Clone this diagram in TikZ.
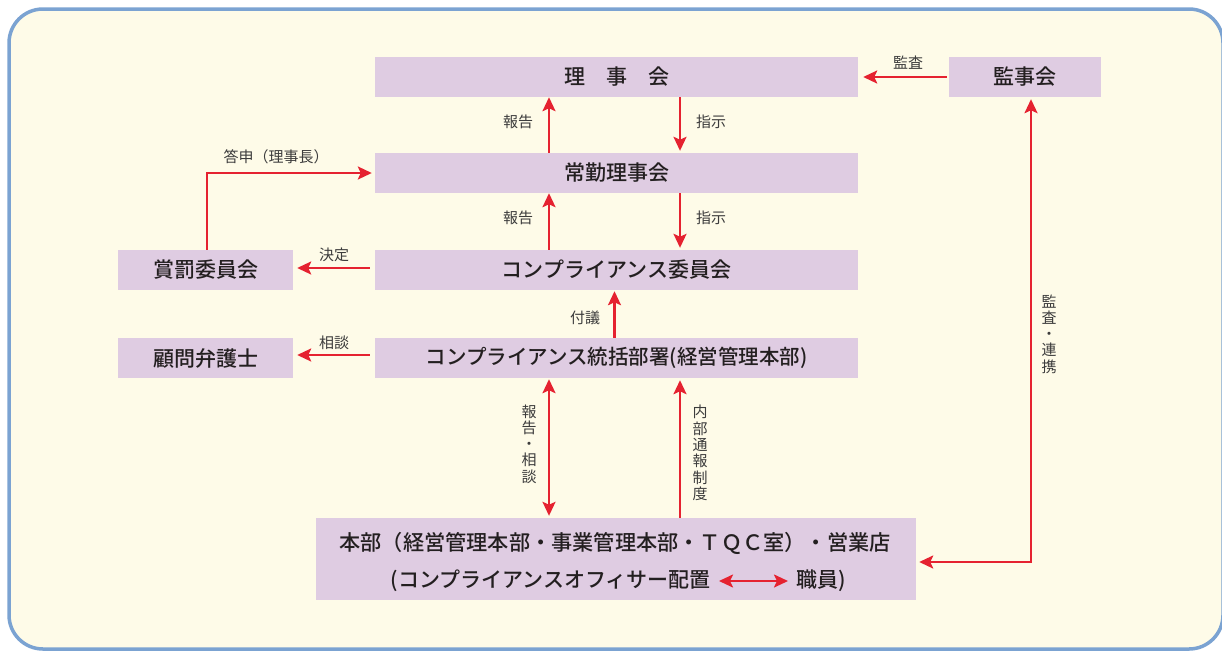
\documentclass[tikz,border=0pt]{standalone}
\usepackage{fontspec}
\newfontfamily\cjk{Noto Sans CJK JP}
\newfontfamily\cjkm{Noto Sans CJK JP Medium}
\usetikzlibrary{arrows.meta}
\definecolor{boxfill}{HTML}{DFCCE2}
\definecolor{arrred}{HTML}{E52230}
\definecolor{bgcream}{HTML}{FEFBE8}
\definecolor{framebl}{HTML}{7BA3D2}
\definecolor{txtc}{HTML}{231F20}
\definecolor{lblc}{HTML}{3C3C3C}
\tikzset{
  box/.style={fill=boxfill, draw=none, minimum height=40pt, inner sep=0pt, text=txtc,
    font=\cjkm\fontsize{21}{26}\selectfont},
  lbl/.style={inner sep=0pt, text=lblc, font=\cjk\fontsize{15}{16}\selectfont},
  vlbl/.style={inner sep=0pt, text=lblc, align=center, font=\cjk\fontsize{15}{16.3}\selectfont},
  arr/.style={draw=arrred, line width=2.5pt, -{Stealth[length=14pt,width=13pt,inset=3pt]}},
  arrboth/.style={draw=arrred, line width=2.5pt, {Stealth[length=14pt,width=13pt,inset=3pt]}-{Stealth[length=14pt,width=13pt,inset=3pt]}},
}
\begin{document}
\begin{tikzpicture}[x=1pt,y=-1pt]
\useasboundingbox (0,0) rectangle (1222,651);
\fill[white] (0,0) rectangle (1222,651);
\draw[draw=framebl, fill=bgcream, line width=3.5pt, rounded corners=34pt] (9,9) rectangle (1223,649);

% boxes
\node[box, minimum width=483pt] (riji) at (616.5,77) {理\hspace{1em}事\hspace{1em}会};
\node[box, minimum width=152pt] (kanji) at (1025,77) {監事会};
\node[box, minimum width=483pt] (jokin) at (616.5,173) {常勤理事会};
\node[box, minimum width=483pt] (iinkai) at (616.5,270) {コンプライアンス委員会};
\node[box, minimum width=175pt] (shobatsu) at (205.5,270) {賞罰委員会};
\node[box, minimum width=483pt, font=\cjkm\fontsize{20.5}{24}\selectfont] (tokatsu) at (616.5,358) {コンプライアンス統括部署(経営管理本部)};
\node[box, minimum width=175pt] (komon) at (205.5,358) {顧問弁護士};
\node[box, minimum width=600pt, minimum height=82pt] (honbu) at (616,559) {};
\node[inner sep=0pt, text=txtc, font=\cjkm\fontsize{21.2}{26}\selectfont] (hl1) at (615,543) {本部（経営管理本部・事業管理本部・ＴＱＣ室）・営業店};
\node[inner sep=0pt, text=txtc, font=\cjkm\fontsize{21}{26}\selectfont, anchor=east] (hl2a) at (711,581) {(コンプライアンスオフィサー配置};
\node[inner sep=0pt, text=txtc, font=\cjkm\fontsize{21}{26}\selectfont, anchor=west] (hl2b) at (796,581) {職員)};
\draw[arrboth, line width=2.2pt, shorten <=8pt, shorten >=8pt] (hl2a.east) -- (hl2b.west);

% connectors
\draw[arr, shorten <=2pt, shorten >=5pt] (kanji.west) -- (riji.east);
\draw[arr, shorten >=2pt] ([xshift=63.5pt]riji.south) -- ([xshift=63.5pt]jokin.north);
\draw[arr] ([xshift=-67.5pt]jokin.north) -- ([xshift=-67.5pt]riji.south);
\draw[arr, shorten >=2pt] ([xshift=63.5pt]jokin.south) -- ([xshift=63.5pt]iinkai.north);
\draw[arr] ([xshift=-67.5pt]iinkai.north) -- ([xshift=-67.5pt]jokin.south);
\draw[arr, shorten >=3pt] ([xshift=1.5pt]shobatsu.north) |- (jokin.west);
\draw[arr, shorten <=5pt, shorten >=4pt] ([yshift=2pt]iinkai.west) -- ([yshift=2pt]shobatsu.east);
\draw[arr, shorten >=1pt] ([xshift=-2pt]tokatsu.north) -- ([xshift=-2pt]iinkai.south);
\draw[arr, shorten <=5pt, shorten >=4pt] ([yshift=3pt]tokatsu.west) -- ([yshift=3pt]komon.east);
\draw[arrboth, shorten <=2pt, shorten >=1pt] ([xshift=-67pt]honbu.north) -- ([xshift=-67.5pt]tokatsu.south);
\draw[arr, shorten >=2pt] ([xshift=64pt]honbu.north) -- ([xshift=63.5pt]tokatsu.south);
\draw[arrboth, shorten <=2pt, shorten >=3pt] ([xshift=6pt]kanji.south) |- ([yshift=-3pt]honbu.east);

% labels
\node[lbl] (l1) at (908,63) {監査};
\node[lbl] (l2) at (518,122) {報告};
\node[lbl] (l3) at (711,122) {指示};
\node[lbl] (l4) at (518,218) {報告};
\node[lbl] (l5) at (711,218) {指示};
\node[lbl] (l6) at (276,157) {答申（理事長）};
\node[lbl] (l7) at (334,255) {決定};
\node[lbl] (l8) at (334,343) {相談};
\node[lbl] (l9) at (585,318) {付議};
\node[vlbl] (l10) at (529,444) {報\\告\\・\\相\\談};
\node[vlbl] (l11) at (700,453) {内\\部\\通\\報\\制\\度};
\node[vlbl] (l12) at (1049,334) {監\\査\\・\\連\\携};
\end{tikzpicture}
\end{document}
